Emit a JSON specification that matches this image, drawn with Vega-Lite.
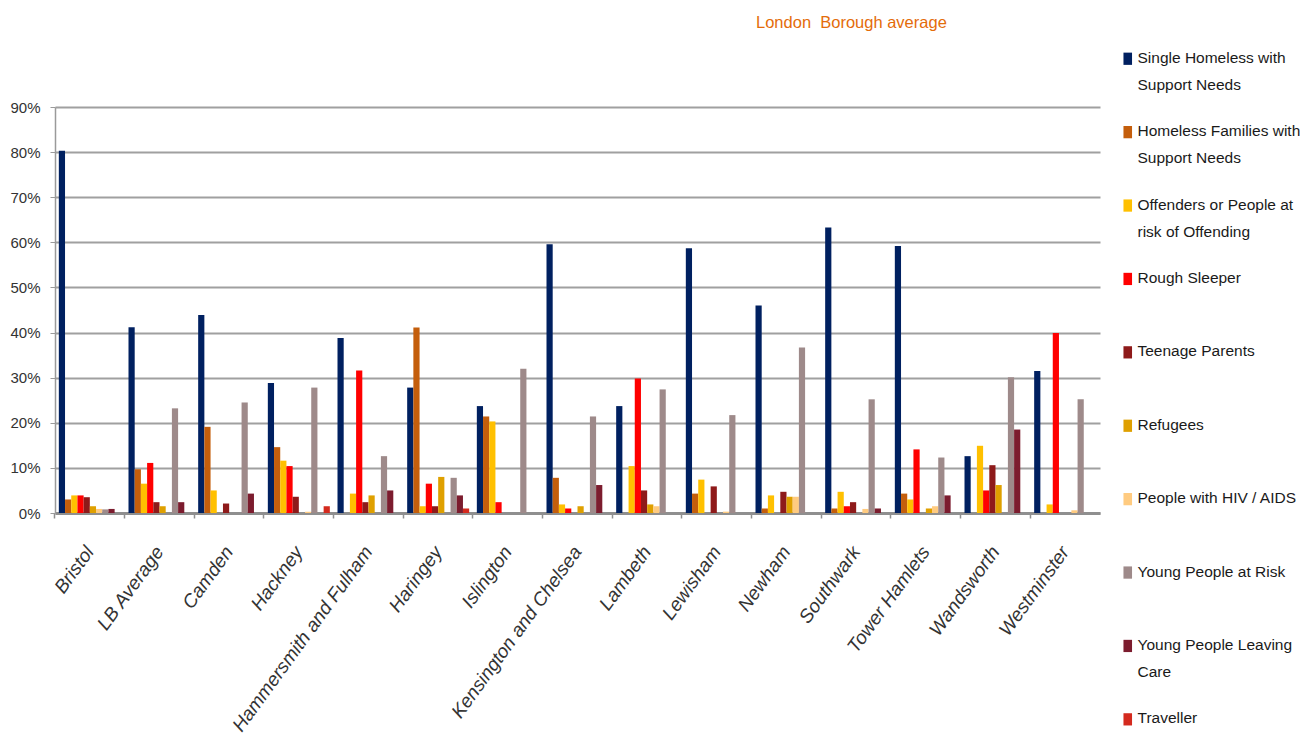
{
  "$schema": "https://vega.github.io/schema/vega-lite/v6.json",
  "width": 1045,
  "height": 406,
  "autosize": {"type": "none"},
  "padding": {"left": 55, "top": 107, "right": 214, "bottom": 223},
  "background": "#ffffff",
  "title": {
    "text": "London\u00a0 Borough average",
    "anchor": "start",
    "frame": "group",
    "dx": 701,
    "offset": 7,
    "font": "Liberation Sans",
    "fontSize": 16.5,
    "fontWeight": "normal",
    "color": "#E46C0A",
    "baseline": "alphabetic"
  },
  "config": {
    "view": {"stroke": null},
    "font": "Liberation Sans"
  },
  "data": {
    "values": [
      {"area": "Bristol", "group": "Single Homeless with Support Needs", "value": 0.803},
      {"area": "Bristol", "group": "Homeless Families with Support Needs", "value": 0.030},
      {"area": "Bristol", "group": "Offenders or People at risk of Offending", "value": 0.039},
      {"area": "Bristol", "group": "Rough Sleeper", "value": 0.039},
      {"area": "Bristol", "group": "Teenage  Parents", "value": 0.035},
      {"area": "Bristol", "group": "Refugees", "value": 0.015},
      {"area": "Bristol", "group": "People with HIV / AIDS", "value": 0.009},
      {"area": "Bristol", "group": "Young People at Risk", "value": 0.008},
      {"area": "Bristol", "group": "Young People Leaving Care", "value": 0.009},

      {"area": "LB Average", "group": "Single Homeless with Support Needs", "value": 0.412},
      {"area": "LB Average", "group": "Homeless Families with Support Needs", "value": 0.097},
      {"area": "LB Average", "group": "Offenders or People at risk of Offending", "value": 0.065},
      {"area": "LB Average", "group": "Rough Sleeper", "value": 0.111},
      {"area": "LB Average", "group": "Teenage  Parents", "value": 0.024},
      {"area": "LB Average", "group": "Refugees", "value": 0.015},
      {"area": "LB Average", "group": "Young People at Risk", "value": 0.232},
      {"area": "LB Average", "group": "Young People Leaving Care", "value": 0.024},

      {"area": "Camden", "group": "Single Homeless with Support Needs", "value": 0.439},
      {"area": "Camden", "group": "Homeless Families with Support Needs", "value": 0.191},
      {"area": "Camden", "group": "Offenders or People at risk of Offending", "value": 0.050},
      {"area": "Camden", "group": "Teenage  Parents", "value": 0.021},
      {"area": "Camden", "group": "Young People at Risk", "value": 0.245},
      {"area": "Camden", "group": "Young People Leaving Care", "value": 0.043},

      {"area": "Hackney", "group": "Single Homeless with Support Needs", "value": 0.288},
      {"area": "Hackney", "group": "Homeless Families with Support Needs", "value": 0.146},
      {"area": "Hackney", "group": "Offenders or People at risk of Offending", "value": 0.116},
      {"area": "Hackney", "group": "Rough Sleeper", "value": 0.104},
      {"area": "Hackney", "group": "Teenage  Parents", "value": 0.036},
      {"area": "Hackney", "group": "People with HIV / AIDS", "value": 0.003},
      {"area": "Hackney", "group": "Young People at Risk", "value": 0.278},
      {"area": "Hackney", "group": "Traveller", "value": 0.015},

      {"area": "Hammersmith and Fulham", "group": "Single Homeless with Support Needs", "value": 0.388},
      {"area": "Hammersmith and Fulham", "group": "Offenders or People at risk of Offending", "value": 0.043},
      {"area": "Hammersmith and Fulham", "group": "Rough Sleeper", "value": 0.316},
      {"area": "Hammersmith and Fulham", "group": "Teenage  Parents", "value": 0.024},
      {"area": "Hammersmith and Fulham", "group": "Refugees", "value": 0.039},
      {"area": "Hammersmith and Fulham", "group": "Young People at Risk", "value": 0.126},
      {"area": "Hammersmith and Fulham", "group": "Young People Leaving Care", "value": 0.050},

      {"area": "Haringey", "group": "Single Homeless with Support Needs", "value": 0.278},
      {"area": "Haringey", "group": "Homeless Families with Support Needs", "value": 0.411},
      {"area": "Haringey", "group": "Offenders or People at risk of Offending", "value": 0.015},
      {"area": "Haringey", "group": "Rough Sleeper", "value": 0.065},
      {"area": "Haringey", "group": "Teenage  Parents", "value": 0.015},
      {"area": "Haringey", "group": "Refugees", "value": 0.080},
      {"area": "Haringey", "group": "Young People at Risk", "value": 0.078},
      {"area": "Haringey", "group": "Young People Leaving Care", "value": 0.039},
      {"area": "Haringey", "group": "Traveller", "value": 0.010},

      {"area": "Islington", "group": "Single Homeless with Support Needs", "value": 0.237},
      {"area": "Islington", "group": "Homeless Families with Support Needs", "value": 0.214},
      {"area": "Islington", "group": "Offenders or People at risk of Offending", "value": 0.203},
      {"area": "Islington", "group": "Rough Sleeper", "value": 0.024},
      {"area": "Islington", "group": "Young People at Risk", "value": 0.320},

      {"area": "Kensington and Chelsea", "group": "Single Homeless with Support Needs", "value": 0.596},
      {"area": "Kensington and Chelsea", "group": "Homeless Families with Support Needs", "value": 0.078},
      {"area": "Kensington and Chelsea", "group": "Offenders or People at risk of Offending", "value": 0.019},
      {"area": "Kensington and Chelsea", "group": "Rough Sleeper", "value": 0.010},
      {"area": "Kensington and Chelsea", "group": "Refugees", "value": 0.015},
      {"area": "Kensington and Chelsea", "group": "Young People at Risk", "value": 0.214},
      {"area": "Kensington and Chelsea", "group": "Young People Leaving Care", "value": 0.062},

      {"area": "Lambeth", "group": "Single Homeless with Support Needs", "value": 0.237},
      {"area": "Lambeth", "group": "Offenders or People at risk of Offending", "value": 0.104},
      {"area": "Lambeth", "group": "Rough Sleeper", "value": 0.298},
      {"area": "Lambeth", "group": "Teenage  Parents", "value": 0.050},
      {"area": "Lambeth", "group": "Refugees", "value": 0.019},
      {"area": "Lambeth", "group": "People with HIV / AIDS", "value": 0.015},
      {"area": "Lambeth", "group": "Young People at Risk", "value": 0.274},

      {"area": "Lewisham", "group": "Single Homeless with Support Needs", "value": 0.587},
      {"area": "Lewisham", "group": "Homeless Families with Support Needs", "value": 0.043},
      {"area": "Lewisham", "group": "Offenders or People at risk of Offending", "value": 0.074},
      {"area": "Lewisham", "group": "Teenage  Parents", "value": 0.059},
      {"area": "Lewisham", "group": "People with HIV / AIDS", "value": 0.003},
      {"area": "Lewisham", "group": "Young People at Risk", "value": 0.217},

      {"area": "Newham", "group": "Single Homeless with Support Needs", "value": 0.460},
      {"area": "Newham", "group": "Homeless Families with Support Needs", "value": 0.010},
      {"area": "Newham", "group": "Offenders or People at risk of Offending", "value": 0.039},
      {"area": "Newham", "group": "Teenage  Parents", "value": 0.047},
      {"area": "Newham", "group": "Refugees", "value": 0.036},
      {"area": "Newham", "group": "People with HIV / AIDS", "value": 0.036},
      {"area": "Newham", "group": "Young People at Risk", "value": 0.367},

      {"area": "Southwark", "group": "Single Homeless with Support Needs", "value": 0.633},
      {"area": "Southwark", "group": "Homeless Families with Support Needs", "value": 0.010},
      {"area": "Southwark", "group": "Offenders or People at risk of Offending", "value": 0.047},
      {"area": "Southwark", "group": "Rough Sleeper", "value": 0.015},
      {"area": "Southwark", "group": "Teenage  Parents", "value": 0.024},
      {"area": "Southwark", "group": "People with HIV / AIDS", "value": 0.009},
      {"area": "Southwark", "group": "Young People at Risk", "value": 0.252},
      {"area": "Southwark", "group": "Young People Leaving Care", "value": 0.010},

      {"area": "Tower Hamlets", "group": "Single Homeless with Support Needs", "value": 0.592},
      {"area": "Tower Hamlets", "group": "Homeless Families with Support Needs", "value": 0.043},
      {"area": "Tower Hamlets", "group": "Offenders or People at risk of Offending", "value": 0.030},
      {"area": "Tower Hamlets", "group": "Rough Sleeper", "value": 0.141},
      {"area": "Tower Hamlets", "group": "Refugees", "value": 0.010},
      {"area": "Tower Hamlets", "group": "People with HIV / AIDS", "value": 0.015},
      {"area": "Tower Hamlets", "group": "Young People at Risk", "value": 0.123},
      {"area": "Tower Hamlets", "group": "Young People Leaving Care", "value": 0.039},

      {"area": "Wandsworth", "group": "Single Homeless with Support Needs", "value": 0.126},
      {"area": "Wandsworth", "group": "Offenders or People at risk of Offending", "value": 0.149},
      {"area": "Wandsworth", "group": "Rough Sleeper", "value": 0.050},
      {"area": "Wandsworth", "group": "Teenage  Parents", "value": 0.106},
      {"area": "Wandsworth", "group": "Refugees", "value": 0.062},
      {"area": "Wandsworth", "group": "Young People at Risk", "value": 0.301},
      {"area": "Wandsworth", "group": "Young People Leaving Care", "value": 0.185},

      {"area": "Westminster", "group": "Single Homeless with Support Needs", "value": 0.315},
      {"area": "Westminster", "group": "Offenders or People at risk of Offending", "value": 0.019},
      {"area": "Westminster", "group": "Rough Sleeper", "value": 0.399},
      {"area": "Westminster", "group": "People with HIV / AIDS", "value": 0.006},
      {"area": "Westminster", "group": "Young People at Risk", "value": 0.252}
    ]
  },
  "mark": {"type": "bar", "cornerRadius": 0},
  "encoding": {
    "x": {
      "field": "area",
      "type": "nominal",
      "sort": null,
      "scale": {"paddingInner": 0.11, "paddingOuter": 0.055},
      "axis": {
        "title": null,
        "labelAngle": -54,
        "labelFont": "Liberation Sans",
        "labelFontSize": 19,
        "labelFontStyle": "italic",
        "labelColor": "#333333",
        "labelPadding": 30,
        "labelLimit": 400,
        "bandPosition": -0.062,
        "domainColor": "#8f8f8f",
        "domainWidth": 3,
        "tickColor": "#8f8f8f",
        "tickSize": 5,
        "tickWidth": 1.5,
        "grid": false
      }
    },
    "xOffset": {
      "field": "group",
      "type": "nominal",
      "scale": {
        "paddingInner": 0,
        "paddingOuter": 0,
        "domain": [
          "Single Homeless with Support Needs",
          "Homeless Families with Support Needs",
          "Offenders or People at risk of Offending",
          "Rough Sleeper",
          "Teenage  Parents",
          "Refugees",
          "People with HIV / AIDS",
          "Young People at Risk",
          "Young People Leaving Care",
          "Traveller"
        ]
      }
    },
    "y": {
      "field": "value",
      "type": "quantitative",
      "scale": {"domain": [0, 0.9], "nice": false},
      "axis": {
        "title": null,
        "values": [0, 0.1, 0.2, 0.3, 0.4, 0.5, 0.6, 0.7, 0.8, 0.9],
        "format": ".0%",
        "labelFont": "Liberation Sans",
        "labelFontSize": 15,
        "labelColor": "#333333",
        "labelPadding": 10,
        "domainColor": "#9a9a9a",
        "domainWidth": 1.5,
        "tickColor": "#9a9a9a",
        "tickSize": 5,
        "gridColor": "#a0a0a0",
        "gridWidth": 2,
        "gridOpacity": 1
      }
    },
    "color": {
      "field": "group",
      "type": "nominal",
      "scale": {
        "domain": [
          "Single Homeless with Support Needs",
          "Homeless Families with Support Needs",
          "Offenders or People at risk of Offending",
          "Rough Sleeper",
          "Teenage  Parents",
          "Refugees",
          "People with HIV / AIDS",
          "Young People at Risk",
          "Young People Leaving Care",
          "Traveller"
        ],
        "range": ["#002060", "#C45E0C", "#FFC000", "#FF0000", "#8E1A1A", "#DFA000", "#FFCB80", "#9E8A8A", "#7C1C2E", "#D42A1E"]
      },
      "legend": {
        "title": null,
        "orient": "none",
        "legendX": 1065,
        "legendY": -56,
        "direction": "vertical",
        "gridAlign": "all",
        "rowPadding": 29.4,
        "symbolType": "M-0.7,-1H0.7V1H-0.7Z",
        "symbolSize": 150,
        "symbolStrokeWidth": 0,
        "labelFont": "Liberation Sans",
        "labelFontSize": 15.5,
        "labelColor": "#1a1a1a",
        "labelBaseline": "top",
        "labelOffset": 2,
        "labelLimit": 200,
        "labelExpr": "datum.label == 'Single Homeless with Support Needs' ? ['Single Homeless with', 'Support Needs'] : datum.label == 'Homeless Families with Support Needs' ? ['Homeless Families with', 'Support Needs'] : datum.label == 'Offenders or People at risk of Offending' ? ['Offenders or People at', 'risk of Offending'] : datum.label == 'Young People Leaving Care' ? ['Young People Leaving', 'Care'] : datum.label",
        "encode": {
          "labels": {"update": {"dy": {"value": -8}, "lineHeight": {"value": 27}}}
        }
      }
    }
  }
}
